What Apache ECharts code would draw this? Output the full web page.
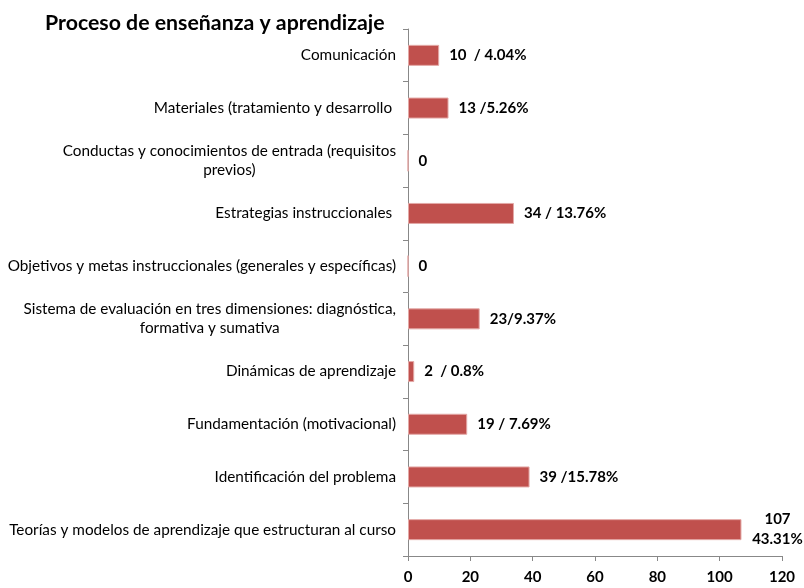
<!DOCTYPE html>
<html>
<head>
<meta charset="utf-8">
<script src="https://cdn.jsdelivr.net/npm/echarts@6/dist/echarts.min.js"></script>
<style>html,body{margin:0;padding:0;background:#fff}#c{width:804px;height:588px}</style>
</head>
<body>
<div id="c"></div>
<script>
const title = 'Proceso de enseñanza y aprendizaje';
const categories = [
  'Comunicación',
  'Materiales (tratamiento y desarrollo ',
  'Conductas y conocimientos de entrada (requisitos\nprevios)',
  'Estrategias instruccionales ',
  'Objetivos y metas instruccionales (generales y específicas)',
  'Sistema de evaluación en tres dimensiones: diagnóstica,\nformativa y sumativa',
  'Dinámicas de aprendizaje',
  'Fundamentación (motivacional)',
  'Identificación del problema',
  'Teorías y modelos de aprendizaje que estructuran al curso'
];
const values = [10, 13, 0, 34, 0, 23, 2, 19, 39, 107];
const valueLabels = ['10  / 4.04%', '13 /5.26%', '0', '34 / 13.76%', '0', '23/9.37%', '2  / 0.8%', '19 / 7.69%', '39 /15.78%', '107\n43.31%'];
const xTicks = [0, 20, 40, 60, 80, 100, 120];

const FONT = 'Lato, "Open Sans", sans-serif';
const chart = echarts.init(document.getElementById('c'), null, {renderer: 'canvas'});
const data = values.map((v, i) => {
  const item = {value: v};
  if (valueLabels[i].indexOf('\n') >= 0) {
    item.label = {
      formatter: valueLabels[i].split('\n').map(s => '{m|' + s + '}').join('\n'),
      rich: {m: {width: 52, align: 'center', fontFamily: FONT, fontWeight: 'bold', fontSize: 15, color: '#000', lineHeight: 20}}
    };
  }
  return item;
});
chart.setOption({
  animation: false,
  backgroundColor: '#fff',
  title: {
    text: title, left: 40, top: 8,
    textStyle: {fontFamily: FONT, fontWeight: 'bold', fontSize: 21.3, color: '#000'}
  },
  grid: {left: 408, right: 22, top: 29, bottom: 32, containLabel: false},
  xAxis: {
    type: 'value', min: xTicks[0], max: xTicks[xTicks.length - 1], interval: 20,
    splitLine: {show: false},
    axisLine: {show: true, lineStyle: {color: '#888', width: 1}},
    axisTick: {show: true, length: 5, lineStyle: {color: '#888'}},
    axisLabel: {margin: 14, fontFamily: FONT, fontWeight: 'bold', fontSize: 15, color: '#000'}
  },
  yAxis: {
    type: 'category', data: categories, inverse: true,
    axisLine: {show: true, lineStyle: {color: '#888', width: 1}},
    axisTick: {show: true, length: 5, lineStyle: {color: '#888'}},
    axisLabel: {
      margin: 12, fontFamily: FONT, fontSize: 15.3, color: '#000',
      formatter: v => v.split('\n').map(s => '{c|' + s + '}').join('\n'),
      rich: {c: {align: 'center', fontFamily: FONT, fontSize: 15.3, color: '#000', lineHeight: 19}}
    }
  },
  series: [{
    type: 'bar', data: data, barWidth: 21,
    itemStyle: {color: '#C0504D', borderColor: '#E3A8A6', borderWidth: 1},
    label: {
      show: true, position: 'right', distance: 10,
      fontFamily: FONT, fontWeight: 'bold', fontSize: 15, color: '#000',
      formatter: p => valueLabels[p.dataIndex]
    }
  }]
});
</script>
</body>
</html>
